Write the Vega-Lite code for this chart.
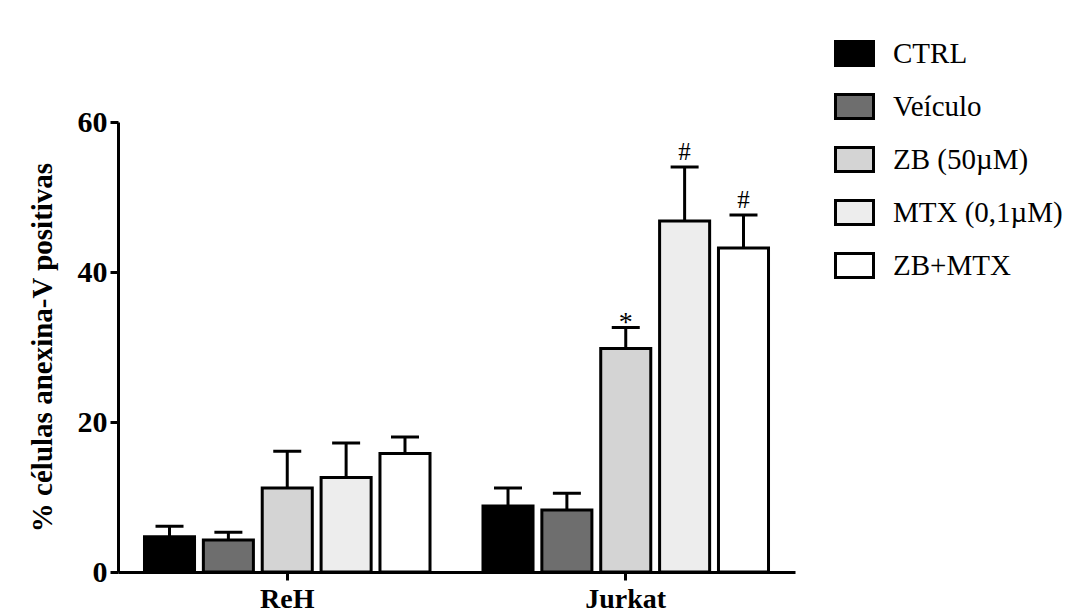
{
  "$schema": "https://vega.github.io/schema/vega-lite/v6.json",
  "autosize": {"type": "none"},
  "padding": {"left": 118, "top": 122, "right": 295, "bottom": 44},
  "width": 677,
  "height": 450,
  "background": "white",
  "data": {
    "values": [
      {"grupo": "ReH", "tratamento": "CTRL", "valor": 4.7, "erro": 6.1, "sig": ""},
      {"grupo": "ReH", "tratamento": "Veículo", "valor": 4.27, "erro": 5.3, "sig": ""},
      {"grupo": "ReH", "tratamento": "ZB (50µM)", "valor": 11.2, "erro": 16.1, "sig": ""},
      {"grupo": "ReH", "tratamento": "MTX (0,1µM)", "valor": 12.6, "erro": 17.2, "sig": ""},
      {"grupo": "ReH", "tratamento": "ZB+MTX", "valor": 15.8, "erro": 18.0, "sig": ""},
      {"grupo": "Jurkat", "tratamento": "CTRL", "valor": 8.8, "erro": 11.2, "sig": ""},
      {"grupo": "Jurkat", "tratamento": "Veículo", "valor": 8.27, "erro": 10.5, "sig": ""},
      {"grupo": "Jurkat", "tratamento": "ZB (50µM)", "valor": 29.8, "erro": 32.6, "sig": "*"},
      {"grupo": "Jurkat", "tratamento": "MTX (0,1µM)", "valor": 46.8, "erro": 54.0, "sig": "#"},
      {"grupo": "Jurkat", "tratamento": "ZB+MTX", "valor": 43.2, "erro": 47.6, "sig": "#"}
    ]
  },
  "encoding": {
    "x": {
      "field": "grupo", "type": "nominal", "sort": ["ReH", "Jurkat"],
      "scale": {"paddingInner": 0, "paddingOuter": 0},
      "axis": {
        "title": null, "labelAngle": 0, "labelFont": "Liberation Serif", "labelFontSize": 28,
        "labelFontWeight": "bold", "labelColor": "black", "labelPadding": 5,
        "domainColor": "black", "domainWidth": 3, "tickColor": "black", "tickWidth": 3, "tickSize": 8
      }
    },
    "xOffset": {
      "field": "tratamento", "type": "nominal",
      "sort": ["CTRL", "Veículo", "ZB (50µM)", "MTX (0,1µM)", "ZB+MTX"],
      "scale": {"paddingInner": 0.15, "paddingOuter": 0.45}
    }
  },
  "layer": [
    {
      "mark": {"type": "bar", "stroke": "black", "strokeWidth": 3},
      "encoding": {
        "y": {
          "field": "valor", "type": "quantitative",
          "scale": {"domain": [0, 60], "nice": false},
          "axis": {
            "values": [0, 20, 40, 60], "grid": false,
            "title": "% células anexina-V positivas",
            "titleFont": "Liberation Serif", "titleFontSize": 29, "titleFontWeight": "bold", "titleColor": "black",
            "titlePadding": 20,
            "labelFont": "Liberation Serif", "labelFontSize": 30, "labelFontWeight": "bold", "labelColor": "black",
            "labelPadding": 3,
            "domainColor": "black", "domainWidth": 3, "tickColor": "black", "tickWidth": 3, "tickSize": 8
          }
        },
        "fill": {
          "field": "tratamento", "type": "nominal",
          "scale": {
            "domain": ["CTRL", "Veículo", "ZB (50µM)", "MTX (0,1µM)", "ZB+MTX"],
            "range": ["#000000", "#6e6e6e", "#d4d4d4", "#ededed", "#ffffff"]
          },
          "legend": {
            "title": null, "orient": "none", "legendX": 716, "legendY": -89,
            "symbolType": "M-1,-0.63H1V0.63H-1Z", "symbolSize": 1444,
            "symbolStrokeColor": "black", "symbolStrokeWidth": 3, "symbolOpacity": 1,
            "labelFont": "Liberation Serif", "labelFontSize": 29, "labelColor": "black",
            "labelOffset": 18, "rowPadding": 14, "labelLimit": 300
          }
        }
      }
    },
    {
      "mark": {"type": "rule", "color": "black", "strokeWidth": 3},
      "encoding": {
        "y": {"field": "valor", "type": "quantitative"},
        "y2": {"field": "erro"}
      }
    },
    {
      "mark": {"type": "tick", "color": "black", "thickness": 3, "size": 28, "opacity": 1},
      "encoding": {
        "y": {"field": "erro", "type": "quantitative"}
      }
    },
    {
      "transform": [{"filter": "datum.sig == '#'"}],
      "mark": {"type": "text", "font": "Liberation Serif", "fontSize": 25, "color": "black", "baseline": "alphabetic", "dy": -7},
      "encoding": {
        "y": {"field": "erro", "type": "quantitative"},
        "text": {"field": "sig"}
      }
    },
    {
      "transform": [{"filter": "datum.sig == '*'"}],
      "mark": {"type": "text", "font": "Liberation Serif", "fontSize": 28, "color": "black", "baseline": "alphabetic", "dy": 3},
      "encoding": {
        "y": {"field": "erro", "type": "quantitative"},
        "text": {"field": "sig"}
      }
    }
  ],
  "config": {"view": {"stroke": null}}
}
